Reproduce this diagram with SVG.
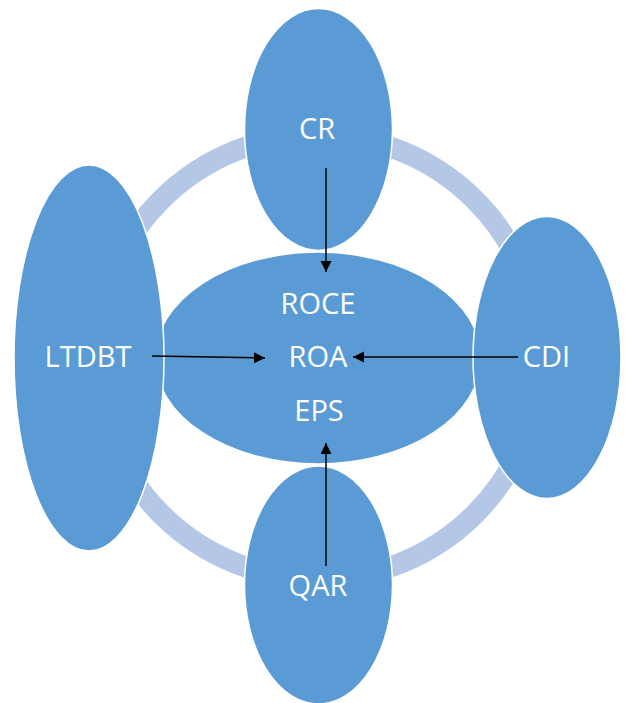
<svg xmlns="http://www.w3.org/2000/svg" width="625" height="703" viewBox="0 0 625 703">
<defs>
<style>
.node{fill:#5B9BD5;stroke:#FFFFFF;stroke-width:1.5}
.ring{fill:none;stroke:#B4C7E7;stroke-width:21}
.lbl{fill:#FFFFFF;font-family:"Open Sans","Noto Sans","Liberation Sans",sans-serif;font-size:29px;text-anchor:middle}
.conn{stroke:#000000;stroke-width:1.5;fill:none}
</style>
<marker id="ah" markerUnits="userSpaceOnUse" markerWidth="12" markerHeight="12" refX="11" refY="5.5" orient="auto">
<path d="M0,0 L11,5.5 L0,11 Z" fill="#000000"/>
</marker>
</defs>
<rect width="625" height="703" fill="#FFFFFF"/>
<circle id="ring" class="ring" cx="318" cy="357" r="222"/>
<g id="center">
<ellipse class="node" cx="318" cy="358" rx="163" ry="106"/>
<text class="lbl" x="318" y="314">ROCE</text>
<text class="lbl" x="318" y="367">ROA</text>
<text class="lbl" x="319" y="421">EPS</text>
</g>
<g id="cr">
<ellipse class="node" cx="318.5" cy="129.5" rx="74" ry="121"/>
<text class="lbl" x="317" y="139">CR</text>
</g>
<g id="ltdbt">
<ellipse class="node" cx="89" cy="358" rx="75" ry="193"/>
<text class="lbl" x="88" y="367">LTDBT</text>
</g>
<g id="cdi">
<ellipse class="node" cx="547" cy="357.5" rx="74" ry="141"/>
<text class="lbl" x="546.5" y="367">CDI</text>
</g>
<g id="qar">
<ellipse class="node" cx="318.5" cy="585" rx="74" ry="119"/>
<text class="lbl" x="318" y="596">QAR</text>
</g>
<g id="connectors">
<line class="conn" x1="326" y1="168" x2="326" y2="272" marker-end="url(#ah)"/>
<line class="conn" x1="152" y1="356" x2="265" y2="358" marker-end="url(#ah)"/>
<line class="conn" x1="518" y1="357" x2="353" y2="357" marker-end="url(#ah)"/>
<line class="conn" x1="326" y1="566" x2="326" y2="443" marker-end="url(#ah)"/>
</g>
</svg>
